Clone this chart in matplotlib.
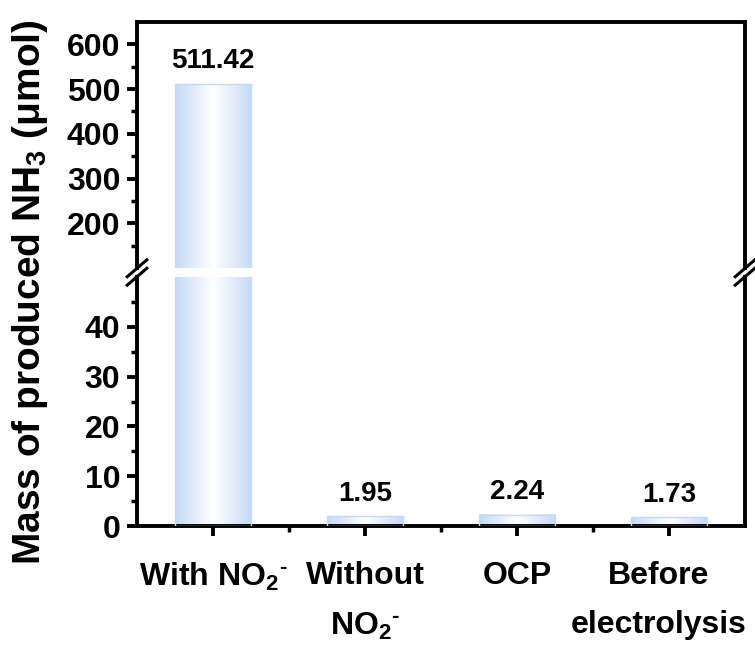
import matplotlib
matplotlib.use('Agg')
from matplotlib import pyplot as plt
from matplotlib.colors import LinearSegmentedColormap
from matplotlib.transforms import ScaledTranslation
import numpy as np

categories = ['With NO$_2$$^{\\text{-}}$', 'Without\nNO$_2$$^{\\text{-}}$', 'OCP', 'Before\nelectrolysis']
values = [511.42, 1.95, 2.24, 1.73]
labels = ['511.42', '1.95', '2.24', '1.73']

plt.rcParams['font.family'] = ['Liberation Sans', 'DejaVu Sans']
plt.rcParams['font.weight'] = 'bold'
plt.rcParams['mathtext.fontset'] = 'custom'
plt.rcParams['mathtext.rm'] = 'Liberation Sans:bold'
plt.rcParams['mathtext.it'] = 'Liberation Sans:bold'
plt.rcParams['mathtext.bf'] = 'Liberation Sans:bold'

fig = plt.figure(figsize=(7.55, 6.49), dpi=100)
ax_top = fig.add_axes([0.1815, 0.5871, 0.8053, 0.379])
ax_bot = fig.add_axes([0.1815, 0.1895, 0.8053, 0.3837])

edge_blue = '#c6d9f6'
cmap = LinearSegmentedColormap.from_list('barfade', ['#c6daf7', '#ffffff', '#c6daf7'])
grad = np.linspace(0, 1, 256).reshape(1, -1)

x = np.arange(len(values))
width = 0.5
for ax in (ax_top, ax_bot):
    bars = ax.bar(x, values, width=width, color='none', edgecolor=edge_blue, linewidth=1, zorder=3)
    for b in bars:
        x0, y0 = b.get_x(), b.get_y()
        ax.imshow(grad, extent=[x0, x0 + b.get_width(), y0, y0 + b.get_height()],
                  aspect='auto', cmap=cmap, zorder=2, interpolation='bicubic')
    ax.set_xlim(-0.5, 3.5)
    for side in ax.spines.values():
        side.set_linewidth(2.8)
    ax.tick_params(axis='both', which='major', direction='out', length=7, width=2.8, labelsize=23, pad=5)
    ax.tick_params(axis='both', which='minor', direction='out', length=4, width=2.5)

ax_top.set_ylim(100, 650)
ax_top.set_yticks([200, 300, 400, 500, 600])
ax_top.set_yticks(np.arange(150, 650, 100), minor=True)
ax_top.spines['bottom'].set_visible(False)
ax_top.tick_params(axis='x', which='both', bottom=False, labelbottom=False)

ax_bot.set_ylim(0, 50)
ax_bot.set_yticks([0, 10, 20, 30, 40])
ax_bot.set_yticks(np.arange(5, 50, 10), minor=True)
ax_bot.spines['top'].set_visible(False)
ax_bot.set_xticks(x)
ax_bot.set_xticks([0.5, 1.5, 2.5], minor=True)
ax_bot.set_xticklabels(categories, fontsize=23, fontweight='bold', linespacing=1.85)
ax_bot.tick_params(axis='x', which='major', pad=18)

# last label sits a little left so it fits inside the figure
last = ax_bot.get_xticklabels()[-1]
last.set_transform(last.get_transform() + ScaledTranslation(-10 / 100, 0, fig.dpi_scale_trans))

for lab in ax_top.get_yticklabels() + ax_bot.get_yticklabels():
    lab.set_fontweight('bold')

# value labels
ax_top.annotate(labels[0], (x[0], values[0]), xytext=(0, 7), textcoords='offset points',
                ha='center', va='bottom', fontsize=20, fontweight='bold')
for i in range(1, len(values)):
    ax_bot.annotate(labels[i], (x[i], values[i]), xytext=(0, 7), textcoords='offset points',
                    ha='center', va='bottom', fontsize=20, fontweight='bold')

# break marks on both spines
gap_y = (0.5871 + 0.5732) / 2
for xs in (0.1815, 0.1815 + 0.8053):
    for dy in (-0.0065, 0.0065):
        fig.add_artist(plt.Line2D([xs - 0.013, xs + 0.013], [gap_y + dy - 0.013, gap_y + dy + 0.013],
                                  color='black', lw=2.2, transform=fig.transFigure))

fig.text(0.04, 0.55, 'Mass of produced NH$_3$ (μmol)', rotation=90, ha='center', va='center',
         fontsize=28, fontweight='bold')

fig.savefig('out.png', dpi=100)
